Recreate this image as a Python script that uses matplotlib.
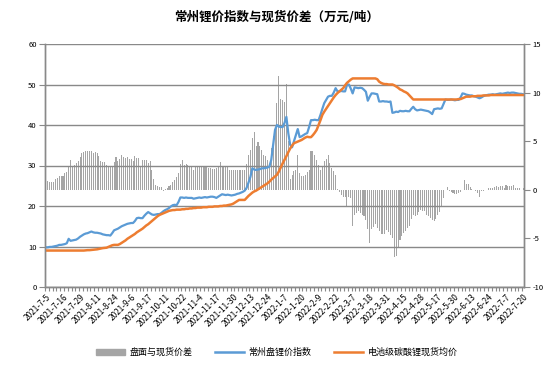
import numpy as np
import matplotlib
matplotlib.use("Agg")
import matplotlib.pyplot as plt
from matplotlib.lines import Line2D
from matplotlib.patches import Patch

plt.rcParams['font.family'] = ['Noto Sans CJK SC', 'DejaVu Sans']
plt.rcParams['axes.unicode_minus'] = False

TITLE = "常州锂价指数与现货价差（万元/吨）"
NAMES = ["盘面与现货价差", "常州盘锂价指数", "电池级碳酸锂现货均价"]
TICK_LABELS = ["2021-7-5", "2021-7-16", "2021-7-29", "2021-8-11", "2021-8-24", "2021-9-6",
               "2021-9-17", "2021-10-11", "2021-10-22", "2021-11-4", "2021-11-17", "2021-11-30",
               "2021-12-13", "2021-12-24", "2022-1-7", "2022-1-20", "2022-2-9", "2022-2-22",
               "2022-3-7", "2022-3-18", "2022-3-31", "2022-4-15", "2022-4-28", "2022-5-17",
               "2022-5-30", "2022-6-13", "2022-6-24", "2022-7-7", "2022-7-20"]
LABEL_STEP = 9  # one label every 9 trading days

# 常州盘锂价指数 (left axis, 万元/吨)
index_price = [
    9.8, 9.8, 9.9, 9.9, 10.0, 10.1, 10.2, 10.4, 10.4, 10.5,
    10.6, 10.8, 11.9, 11.4, 11.5, 11.6, 11.7, 12.0, 12.4, 12.7,
    13.0, 13.2, 13.3, 13.5, 13.7, 13.5, 13.4, 13.4, 13.3, 13.2,
    13.0, 12.9, 12.8, 12.8, 12.7, 13.3, 14.0, 14.2, 14.4, 14.7,
    15.0, 15.2, 15.4, 15.6, 15.7, 15.8, 15.8, 16.3, 17.0, 17.1,
    17.0, 17.0, 17.6, 18.1, 18.5, 18.2, 17.9, 17.8, 17.9, 18.0,
    18.0, 18.3, 18.7, 19.0, 19.2, 19.5, 19.9, 20.2, 20.3, 20.2,
    21.0, 22.1, 22.1, 22.0, 22.1, 22.0, 22.0, 22.0, 21.8, 21.9,
    22.0, 22.1, 22.0, 22.1, 22.2, 22.1, 22.2, 22.3, 22.3, 22.2,
    22.0, 22.3, 22.6, 22.9, 22.8, 22.7, 22.8, 22.7, 22.6, 22.7,
    22.8, 23.0, 23.1, 23.3, 23.5, 23.8, 24.5, 25.8, 27.2, 29.3,
    29.0, 28.9, 29.0, 29.1, 29.3, 29.3, 29.4, 29.5, 29.7, 31.4,
    35.0, 38.8, 40.0, 39.6, 39.5, 39.5, 40.5, 42.0, 38.0, 35.1,
    34.5, 36.0, 37.5, 39.0, 37.0, 37.2, 37.5, 37.8, 38.0, 39.5,
    41.2, 41.2, 41.3, 41.2, 41.2, 42.5, 44.0, 45.4, 46.2, 47.0,
    47.2, 47.2, 48.0, 49.1, 48.3, 48.3, 48.4, 48.3, 48.3, 49.9,
    50.0, 49.0, 47.8, 49.3, 49.2, 49.1, 49.2, 49.1, 48.7, 48.2,
    46.0, 47.0, 47.8, 47.8, 47.7, 47.6, 45.8, 45.8, 45.9, 45.8,
    45.8, 45.7, 45.8, 43.0, 43.1, 43.3, 43.2, 43.5, 43.4, 43.4,
    43.5, 43.4, 43.4, 44.0, 44.5, 43.9, 43.6, 43.7, 43.8, 43.7,
    43.6, 43.5, 43.4, 43.1, 42.7, 43.9, 44.0, 44.1, 44.0, 44.1,
    45.2, 46.3, 46.2, 46.2, 46.3, 46.2, 46.1, 46.2, 46.2, 46.8,
    47.8, 47.7, 47.5, 47.4, 47.3, 47.3, 47.1, 47.0, 46.8, 46.6,
    46.8, 47.1, 47.3, 47.4, 47.5, 47.5, 47.6, 47.5, 47.6, 47.7,
    47.8, 47.7, 47.8, 47.9, 48.0, 47.9, 48.0, 48.0, 47.9, 47.8,
    47.7, 47.7, 47.6,
]

# 电池级碳酸锂现货均价 (left axis, 万元/吨)
spot_price = [
    9.0, 9.0, 9.0, 9.0, 9.0, 9.0, 9.0, 9.0, 9.0, 9.0,
    9.0, 9.0, 9.0, 9.0, 9.0, 9.0, 9.0, 9.0, 9.0, 9.0,
    9.0, 9.05, 9.1, 9.1, 9.15, 9.2, 9.25, 9.3, 9.4, 9.5,
    9.6, 9.65, 9.7, 9.9, 10.1, 10.3, 10.4, 10.4, 10.4, 10.6,
    10.9, 11.2, 11.5, 11.9, 12.2, 12.5, 12.8, 13.1, 13.5, 13.8,
    14.1, 14.4, 14.8, 15.2, 15.5, 15.9, 16.3, 16.7, 17.1, 17.5,
    17.8, 18.0, 18.2, 18.4, 18.6, 18.8, 18.9, 19.0, 19.0, 19.1,
    19.1, 19.1, 19.2, 19.2, 19.3, 19.3, 19.4, 19.4, 19.5, 19.5,
    19.6, 19.6, 19.6, 19.7, 19.7, 19.7, 19.8, 19.8, 19.8, 19.9,
    19.9, 19.9, 20.0, 20.0, 20.1, 20.1, 20.2, 20.3, 20.4, 20.6,
    20.9, 21.2, 21.5, 21.5, 21.5, 21.5, 22.0, 22.5, 22.9, 23.3,
    23.6, 23.8, 24.1, 24.4, 24.7, 25.0, 25.3, 25.6, 26.0, 26.5,
    26.9, 27.3, 27.7, 28.5, 29.5, 30.5, 31.4, 32.3, 33.3, 34.2,
    34.9, 35.5, 35.7, 35.9, 36.1, 36.3, 36.6, 36.9, 37.1, 37.0,
    37.0, 37.5, 38.1, 38.8, 40.0, 41.2, 42.5, 43.3, 44.0, 44.7,
    45.4, 46.1, 46.8, 47.4, 47.9, 48.3, 48.7, 49.1, 49.8, 50.4,
    50.8, 51.2, 51.5, 51.5, 51.5, 51.5, 51.5, 51.5, 51.5, 51.5,
    51.5, 51.5, 51.5, 51.5, 51.5, 51.3, 50.7, 50.4, 50.2, 50.1,
    50.1, 50.0, 50.0, 50.0, 49.8, 49.5, 49.2, 48.8, 48.6, 48.3,
    48.1, 47.8, 47.3, 46.8, 46.3, 46.3, 46.3, 46.3, 46.3, 46.3,
    46.3, 46.3, 46.3, 46.3, 46.3, 46.3, 46.3, 46.3, 46.3, 46.3,
    46.3, 46.3, 46.3, 46.3, 46.3, 46.3, 46.3, 46.3, 46.4, 46.4,
    46.6, 46.8, 47.0, 47.0, 47.0, 47.1, 47.1, 47.1, 47.2, 47.2,
    47.2, 47.3, 47.3, 47.3, 47.3, 47.4, 47.4, 47.4, 47.4, 47.4,
    47.4, 47.4, 47.4, 47.4, 47.4, 47.4, 47.4, 47.4, 47.4, 47.4,
    47.4, 47.4, 47.4,
]

# 盘面与现货价差 (right axis, 万元/吨)
spread = [
    0.67, 0.9, 0.8, 0.8, 0.8, 1.1, 1.2, 1.4, 1.42, 1.42,
    1.7, 1.86, 2.4, 3.07, 2.4, 2.6, 2.8, 3.0, 3.4, 3.75,
    3.9, 4.0, 3.95, 4.0, 3.95, 3.8, 3.85, 3.75, 3.5, 3.0,
    2.9, 2.9, 2.6, 2.4, 2.4, 2.4, 2.9, 3.4, 3.0, 3.2,
    3.6, 3.4, 3.3, 3.4, 3.2, 3.2, 3.0, 3.5, 3.3, 3.3,
    2.5, 3.1, 3.1, 3.1, 2.8, 3.0, 2.0, 1.1, 0.5, 0.41,
    0.3, 0.25, -0.17, 0.1, 0.17, 0.34, 0.51, 0.8, 1.0, 1.3,
    1.71, 2.67, 3.02, 2.54, 2.67, 2.54, 2.5, 2.3, 2.06, 2.4,
    2.4, 2.4, 2.4, 2.4, 2.4, 2.4, 2.23, 2.23, 2.15, 2.15,
    2.23, 2.5, 2.81, 2.5, 2.5, 2.5, 2.5, 2.06, 2.06, 2.06,
    2.06, 2.0, 2.0, 2.06, 2.06, 2.06, 2.67, 3.6, 4.1, 5.3,
    5.9, 4.5, 4.87, 4.46, 4.12, 3.6, 3.5, 3.09, 2.67, 4.29,
    5.5, 6.24, 8.9, 11.7, 9.3, 9.2, 9.0, 10.9, 5.0, 1.1,
    1.5, 1.95, 2.06, 3.6, 1.71, 1.44, 1.44, 1.5, 1.8, 2.06,
    4.0, 4.0, 3.6, 3.09, 2.57, 2.06, 2.5, 3.0, 3.19, 3.6,
    2.74, 2.23, 1.89, 1.54, 0.05, -0.27, -0.5, -0.69, -0.69, -1.71,
    -0.79, -0.86, -3.7, -2.57, -2.4, -2.23, -2.4, -2.57, -2.74, -3.09,
    -4.0, -5.49, -4.0, -3.8, -3.5, -3.94, -4.29, -4.53, -4.53, -4.53,
    -4.1, -4.3, -4.6, -4.97, -6.96, -6.86, -6.0, -5.14, -4.8, -4.46,
    -4.19, -3.94, -3.7, -3.0, -2.57, -2.74, -2.57, -2.33, -2.06, -2.23,
    -2.23, -2.57, -2.74, -2.91, -3.09, -3.26, -3.0, -2.6, -2.33, -1.65,
    -0.8, 0.0, 0.27, -0.17, -0.27, -0.34, -0.4, -0.41, -0.38, -0.2,
    0.0, 0.96, 0.62, 0.62, 0.3, 0.1, -0.07, -0.17, -0.34, -0.69,
    -0.1, -0.1, -0.07, 0.0, 0.17, 0.17, 0.2, 0.27, 0.34, 0.27,
    0.41, 0.34, 0.2, 0.48, 0.34, 0.41, 0.41, 0.51, 0.17, 0.17,
    0.17, 0.0, 0.17,
]

BLUE, ORANGE, GREY, AXIS = "#5B9BD5", "#ED7D31", "#A5A5A5", "#898989"

n = len(index_price)
x = np.arange(n)

fig = plt.figure(figsize=(5.54, 3.69), dpi=100)
ax = fig.add_axes([45 / 554, 82 / 369, 479 / 554, 243 / 369])
ax2 = ax.twinx()

ax2.bar(x, spread, width=0.55, color=GREY, linewidth=0)
ax.set_zorder(ax2.get_zorder() + 1)
ax.patch.set_visible(False)
ax.plot(x, index_price, color=BLUE, lw=1.6, solid_joinstyle="round")
ax.plot(x, spot_price, color=ORANGE, lw=1.8, solid_joinstyle="round")

ax.set_xlim(-0.5, n - 0.5)
ax.set_ylim(0, 60)
ax.set_yticks(range(0, 61, 10))
ax2.set_ylim(-10, 15)
ax2.set_yticks(range(-10, 16, 5))
ax.yaxis.grid(True, color=AXIS, lw=1)

ax.set_xticks(x[::LABEL_STEP])
ax.set_xticklabels(TICK_LABELS, rotation=45, ha="right", rotation_mode="anchor", fontsize=5.9)
ax.set_xticks(np.arange(-0.5, n, 2), minor=True)
ax.tick_params(axis="x", which="major", length=0, pad=4)
ax.tick_params(axis="x", which="minor", length=3, color=AXIS, width=0.8)
ax.tick_params(axis="y", length=4, color=AXIS, labelsize=5.5, pad=2)
ax2.tick_params(axis="y", length=4, color=AXIS, labelsize=5.5, pad=2)

for a in (ax, ax2):
    for side, sp in a.spines.items():
        sp.set_color(AXIS)
        sp.set_linewidth(1)
    a.spines["top"].set_visible(False)

fig.text(0.5, 0.953, TITLE, ha="center", va="center", fontsize=9, fontweight="bold")

handles = [Patch(color=GREY), Line2D([], [], color=BLUE, lw=1.8), Line2D([], [], color=ORANGE, lw=1.8)]
fig.legend(handles, NAMES, loc="center", bbox_to_anchor=(0.5, 0.045), ncol=3, frameon=False,
           fontsize=6.5, handlelength=3.2, handleheight=0.6, columnspacing=2.5, handletextpad=0.5)

fig.savefig("out.png", dpi=100)
